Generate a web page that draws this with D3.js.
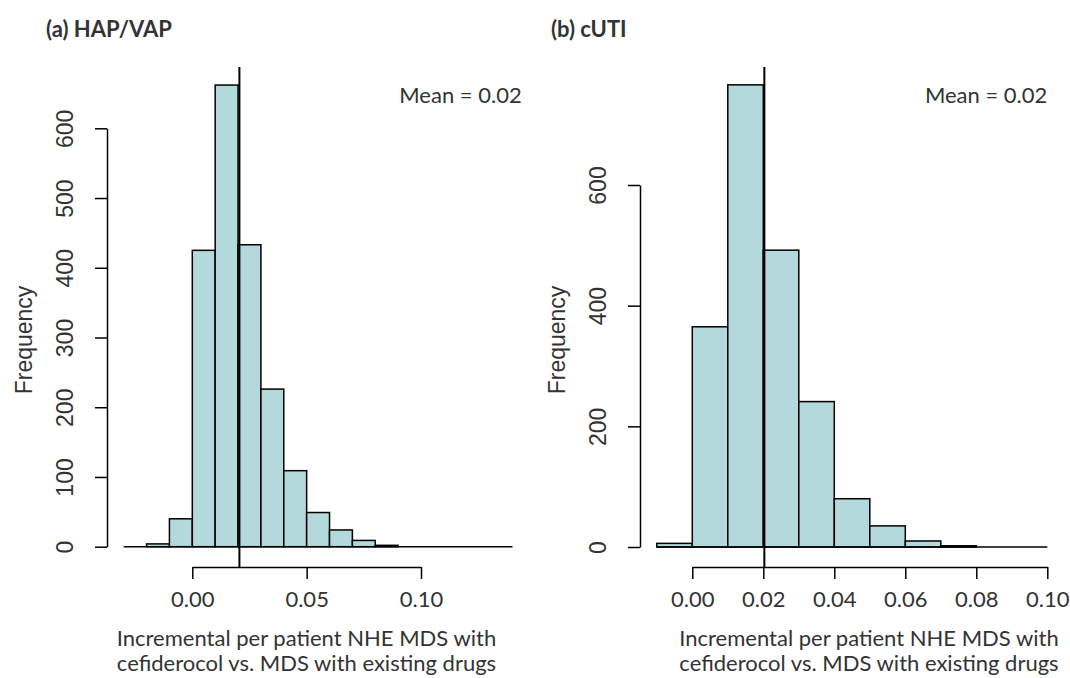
<!DOCTYPE html>
<html><head><meta charset="utf-8">
<script src="https://cdn.jsdelivr.net/npm/d3@7"></script>
<style>body{margin:0;background:#fff}</style>
</head><body>
<script>
// ---- data ----
const titleA = "(a) HAP/VAP";
const titleB = "(b) cUTI";
const binEdgesA = [-0.02,-0.01,0.00,0.01,0.02,0.03,0.04,0.05,0.06,0.07,0.08,0.09];
const countsA   = [4,40,425,662,433,226,109,49,24,9,2];
const binEdgesB = [-0.01,0.00,0.01,0.02,0.03,0.04,0.05,0.06,0.07,0.08];
const countsB   = [6,365,766,492,241,80,35,10,2];
const meanA = 0.0206, meanB = 0.0203;
const meanLabel = "Mean = 0.02";
const xTicksA = [0.00,0.05,0.10];
const xTicksB = [0.00,0.02,0.04,0.06,0.08,0.10];
const yTicksA = [0,100,200,300,400,500,600];
const yTicksB = [0,200,400,600];
const baseExtentA = [-0.03,0.14];
const baseExtentB = [-0.01,0.10];
const xLabelLines = ["Incremental per patient NHE MDS with","cefiderocol vs. MDS with existing drugs"];
const yLabel = "Frequency";

const W=1070,H=678;
const svg=d3.select("body").append("svg").attr("width",W).attr("height",H);
const FILL="#b4d9dc", TXT="#333";

function panel(o){
  const g=svg.append("g");
  const x=d3.scaleLinear().domain([0,0.10]).range(o.xr);
  const y=d3.scaleLinear().domain([0,600]).range(o.yr);
  const top=67, bottom=567;
  // title
  g.append("text").attr("x",o.titleX).attr("y",37).text(o.title)
    .attr("font-family","Lato").attr("font-weight","bold").attr("font-size",22).attr("fill",TXT);
  // bars
  const bins=o.counts.map((c,i)=>({x0:o.edges[i],x1:o.edges[i+1],c}));
  g.selectAll("rect.bar").data(bins).join("rect").attr("class","bar")
    .attr("x",d=>x(d.x0)).attr("width",d=>x(d.x1)-x(d.x0))
    .attr("y",d=>y(d.c)).attr("height",d=>y(0)-y(d.c))
    .attr("fill",FILL).attr("stroke","#000").attr("stroke-width",1.5);
  // baseline
  g.append("line").attr("x1",x(o.base[0])).attr("x2",x(o.base[1]))
    .attr("y1",y(0)).attr("y2",y(0)).attr("stroke","#000").attr("stroke-width",1.5);
  // mean line
  g.append("line").attr("x1",x(o.mean)).attr("x2",x(o.mean)).attr("y1",top).attr("y2",bottom)
    .attr("stroke","#000").attr("stroke-width",2);
  // x axis
  const xa=g.append("g").attr("transform",`translate(0,${bottom})`)
    .call(d3.axisBottom(x).tickValues(o.xticks).tickSize(12).tickSizeOuter(0).tickFormat(d3.format(".2f")));
  xa.select(".domain").attr("stroke","#000").attr("stroke-width",1.5);
  xa.selectAll(".tick line").attr("stroke","#000").attr("stroke-width",1.5);
  xa.selectAll("text").attr("font-family","Lato").attr("font-size",22).attr("fill",TXT)
    .attr("y",40).attr("dy",0);
  // y axis
  const ya=g.append("g").attr("transform",`translate(${o.yAxisX},0)`)
    .call(d3.axisLeft(y).tickValues(o.yticks).tickSize(12).tickSizeOuter(0));
  ya.select(".domain").attr("stroke","#000").attr("stroke-width",1.5);
  ya.selectAll(".tick line").attr("stroke","#000").attr("stroke-width",1.5);
  ya.selectAll("text").attr("font-family","Liberation Sans").attr("font-size",23).attr("fill",TXT)
    .attr("transform","rotate(-90)").attr("x",0).attr("y",-34).attr("dy",0).attr("text-anchor","middle");
  // y label
  g.append("text").attr("transform",`translate(${o.yAxisX-75},340) rotate(-90)`)
    .attr("text-anchor","middle").text(yLabel)
    .attr("font-family","Liberation Sans").attr("font-size",23).attr("fill",TXT);
  // x label
  g.selectAll("text.xl").data(xLabelLines).join("text").attr("class","xl")
    .attr("x",o.xLabelCx).attr("y",(d,i)=>646+i*25).attr("text-anchor","middle").text(d=>d)
    .attr("font-family","Lato").attr("font-size",22).attr("fill",TXT);
  // mean label
  g.append("text").attr("x",o.meanX).attr("y",103).attr("text-anchor","end").text(meanLabel)
    .attr("font-family","Lato").attr("font-size",22).attr("fill",TXT);
}
panel({title:titleA,titleX:46,edges:binEdgesA,counts:countsA,mean:meanA,xticks:xTicksA,yticks:yTicksA,
  base:baseExtentA,xr:[192.3,421],yr:[546.7,128.3],yAxisX:107,xLabelCx:306.5,meanX:521.7});
panel({title:titleB,titleX:551,edges:binEdgesB,counts:countsB,mean:meanB,xticks:xTicksB,yticks:yTicksB,
  base:baseExtentB,xr:[692.3,1047.3],yr:[547,185],yAxisX:640,xLabelCx:869,meanX:1047.3});
</script>
</body></html>
